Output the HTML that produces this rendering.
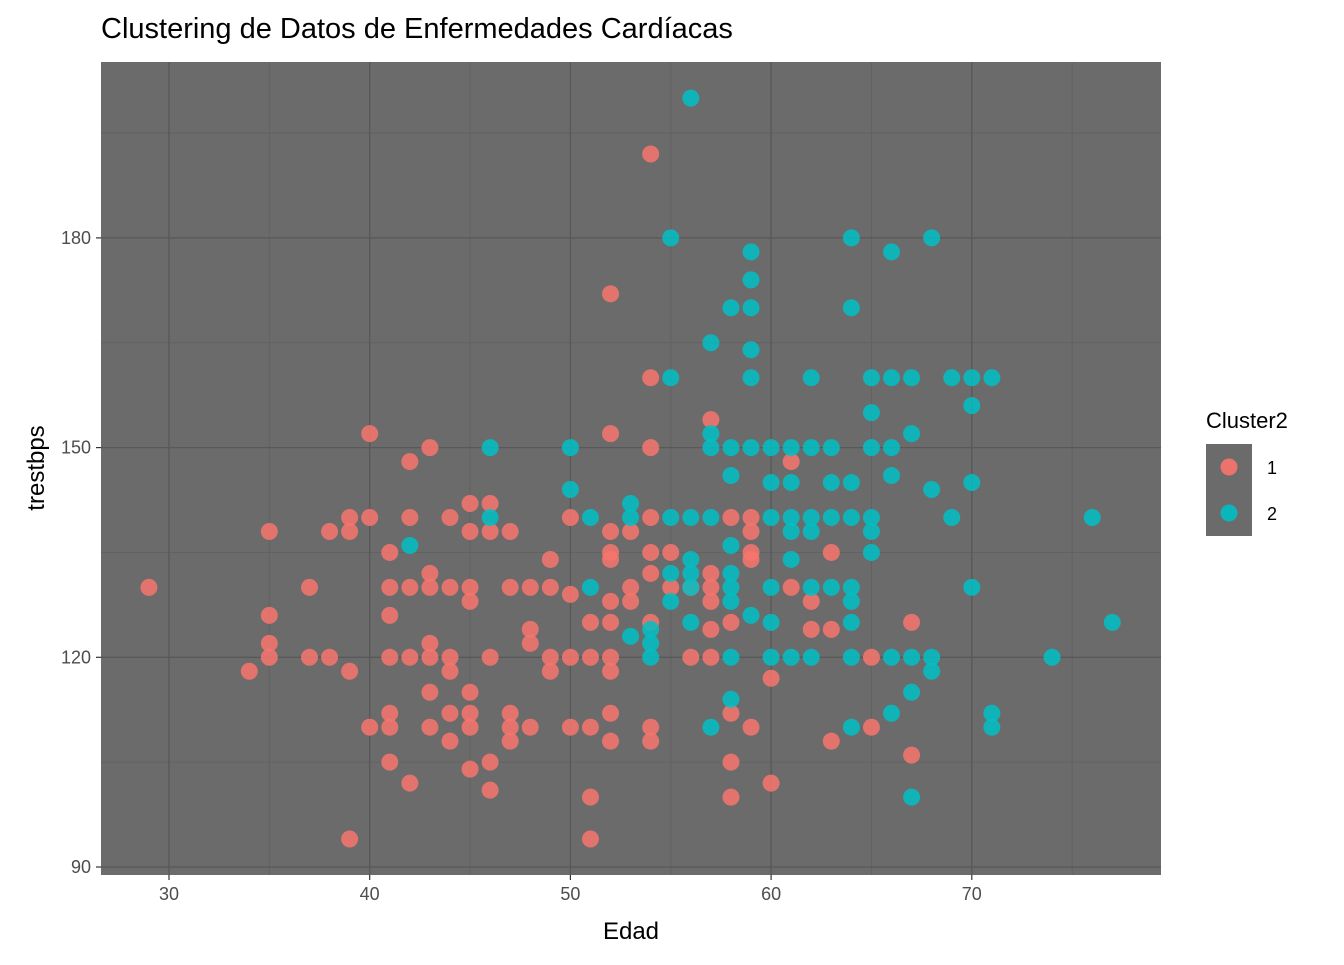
<!DOCTYPE html>
<html><head><meta charset="utf-8"><style>
body{margin:0;background:#fff;font-family:"Liberation Sans",Arial,sans-serif}
svg text{font-family:"Liberation Sans",Arial,sans-serif}
</style></head><body>
<svg id="chart" width="1344" height="960" xmlns="http://www.w3.org/2000/svg">
<text x="101" y="38" font-size="29" fill="#000">Clustering de Datos de Enfermedades Cardíacas</text>
<rect x="101" y="62" width="1060" height="813" fill="#6b6b6b"/>
<g id="grid"></g><g id="pts"></g><g id="axes"></g>
<text x="631" y="939" font-size="24" text-anchor="middle">Edad</text>
<text transform="translate(44,468) rotate(-90)" font-size="24" text-anchor="middle">trestbps</text>
<g>
<text x="1206" y="428" font-size="22">Cluster2</text>
<rect x="1206" y="444" width="46" height="92" fill="#6b6b6b"/>
<circle cx="1229" cy="467" r="8.5" fill="#F8766D" fill-opacity="0.9"/>
<circle cx="1229" cy="513" r="8.5" fill="#00BFC4" fill-opacity="0.9"/>
<text x="1267" y="474" font-size="18">1</text>
<text x="1267" y="520" font-size="18">2</text>
</g>
</svg>
<script>
const xTicks=[30,40,50,60,70];
const yTicks=[90,120,150,180];
const xMinor=[35,45,55,65,75];
const yMinor=[105,135,165,195];
const c1Age=[29,34,35,35,35,35,37,37,38,38,39,39,39,39,40,40,40,41,41,41,41,41,41,41,42,42,42,42,42,43,43,43,43,43,43,43,44,44,44,44,44,44,45,45,45,45,45,45,45,45,46,46,46,46,46,47,47,47,47,47,48,48,48,48,49,49,49,49,50,50,50,50,51,51,51,51,51,52,52,52,52,52,52,52,52,52,52,52,53,53,53,54,54,54,54,54,54,54,54,54,55,55,56,56,57,57,57,57,57,57,58,58,58,58,58,59,59,59,59,59,60,60,61,61,62,62,63,63,63,65,65,67,67];
const c1Bps=[130,118,138,126,122,120,130,120,138,120,140,138,118,94,152,140,110,135,130,126,120,112,110,105,148,140,130,120,102,150,132,130,122,120,115,110,140,130,120,118,112,108,142,138,130,128,115,112,110,104,142,138,120,105,101,138,130,112,110,108,130,124,122,110,134,130,120,118,140,129,120,110,125,120,110,100,94,172,152,138,135,134,128,125,120,118,112,108,138,130,128,192,160,150,140,135,132,125,110,108,135,130,120,130,154,132,130,128,124,120,140,125,112,105,100,140,138,135,134,110,117,102,148,130,128,124,135,124,108,120,110,125,106];
const c2Age=[42,46,46,50,50,51,51,53,53,53,54,54,54,55,55,55,55,55,56,56,56,56,56,56,57,57,57,57,57,58,58,58,58,58,58,58,58,58,59,59,59,59,59,59,59,60,60,60,60,60,60,61,61,61,61,61,61,62,62,62,62,62,62,63,63,63,63,64,64,64,64,64,64,64,64,64,65,65,65,65,65,65,66,66,66,66,66,66,67,67,67,67,67,68,68,68,68,69,69,70,70,70,70,71,71,71,74,76,77];
const c2Bps=[136,150,140,150,144,140,130,142,140,123,120,122,124,180,160,140,132,128,200,140,134,132,130,125,165,152,150,140,110,170,150,146,136,132,130,128,120,114,178,174,170,164,160,150,126,150,145,140,130,125,120,150,145,140,138,134,120,160,150,140,138,130,120,150,145,140,130,180,170,145,140,130,128,125,120,110,160,155,150,140,138,135,178,160,150,146,120,112,160,152,120,115,100,180,144,120,118,160,140,160,156,145,130,160,112,110,120,140,125];
const NS='http://www.w3.org/2000/svg';
const xs=a=>169+(a-30)*20.07;
const ys=v=>867-(v-90)*6.99;
const grid=document.getElementById('grid'),pts=document.getElementById('pts'),axes=document.getElementById('axes');
function mk(tag,attrs,parent){const e=document.createElementNS(NS,tag);for(const k in attrs)e.setAttribute(k,attrs[k]);parent.appendChild(e);return e;}
xMinor.forEach(v=>{const l=mk('line',{x1:xs(v),x2:xs(v),y1:62,y2:875,stroke:'#626262','stroke-width':1},grid);

});
yMinor.forEach(v=>{const l=mk('line',{x1:101,x2:1161,y1:ys(v),y2:ys(v),stroke:'#626262','stroke-width':1},grid);

});
xTicks.forEach(v=>{const l=mk('line',{x1:xs(v),x2:xs(v),y1:62,y2:875,stroke:'#585858','stroke-width':1.3},grid);


const t=mk('line',{x1:xs(v),x2:xs(v),y1:875,y2:880,stroke:'#333','stroke-width':1.2},axes);


const tx=mk('text',{x:xs(v),y:900,'font-size':18,'text-anchor':'middle',fill:'#4d4d4d'},axes);tx.textContent=v;

});
yTicks.forEach(v=>{const l=mk('line',{x1:101,x2:1161,y1:ys(v),y2:ys(v),stroke:'#585858','stroke-width':1.3},grid);


const t=mk('line',{x1:96,x2:101,y1:ys(v),y2:ys(v),stroke:'#333','stroke-width':1.2},axes);


const tx=mk('text',{x:91,y:ys(v)+6,'font-size':18,'text-anchor':'end',fill:'#4d4d4d'},axes);tx.textContent=v;

});
c1Age.forEach((a,i)=>{const c=mk('circle',{cx:xs(a),cy:ys(c1Bps[i]),r:8.5,fill:'#F8766D','fill-opacity':0.85},pts);

});
c2Age.forEach((a,i)=>{const c=mk('circle',{cx:xs(a),cy:ys(c2Bps[i]),r:8.5,fill:'#00BFC4','fill-opacity':0.85},pts);

});
</script>
</body></html>
